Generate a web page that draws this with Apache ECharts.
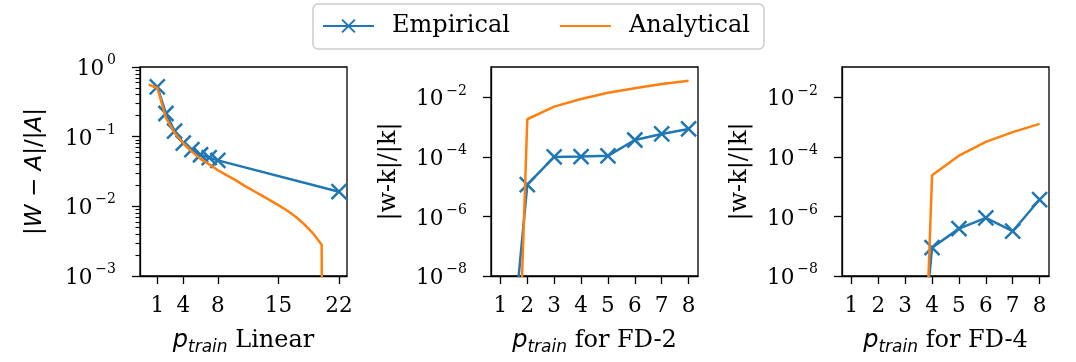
<!DOCTYPE html>
<html lang="en">
<head>
    <meta charset="UTF-8">
    <title>p_train error</title>
    <script src="https://cdn.jsdelivr.net/npm/echarts@6/dist/echarts.min.js"></script>
</head>
<body style="margin:0;background:#fff;">
<div id="chart" style="width:1076px;height:362px;"></div>
<script type="text/javascript">
    // values; 1e-30 / 1e-15 stand for "zero" points that drop off the log axis
    const linEmpX = [1, 2, 3, 4, 5, 6, 7, 8, 22];
    const linEmp = [0.52, 0.215, 0.12, 0.081, 0.065, 0.055, 0.050, 0.0457, 0.0162];
    const linAnaX = [0, 1, 2, 3, 4, 5, 6, 7, 8, 9, 10, 11, 12, 13, 14, 15, 16, 17, 18, 19, 20, 21];
    const linAna = [0.56, 0.50, 0.186, 0.113, 0.081, 0.061, 0.048, 0.040, 0.033, 0.028, 0.024,
        0.020, 0.017, 0.0145, 0.0123, 0.0104, 0.0087, 0.0071, 0.0055, 0.0041, 0.0028, 1e-30];

    const fdX = [1, 2, 3, 4, 5, 6, 7, 8];
    const fd2Emp = [3e-15, 1.17e-5, 1.0e-4, 1.03e-4, 1.09e-4, 3.7e-4, 5.9e-4, 8.7e-4];
    const fd2Ana = [1e-30, 1.84e-3, 4.9e-3, 8.8e-3, 1.42e-2, 2.04e-2, 2.8e-2, 3.6e-2];
    const fd4Emp = [1e-17, 1e-17, 3e-17, 8.9e-8, 3.9e-7, 8.9e-7, 3.2e-7, 3.7e-6];
    const fd4Ana = [1e-30, 1e-30, 1e-30, 2.4e-5, 1.1e-4, 3.2e-4, 6.8e-4, 1.29e-3];

    const linTicks = [1, 4, 8, 15, 22];
    const fdTicks = [1, 2, 3, 4, 5, 6, 7, 8];
    const linExp = [-3, -2, -1, 0];
    const fdExp = [-8, -6, -4, -2];

    const serif = 'DejaVu Serif';
    const sans = 'DejaVu Sans';
    const blue = '#1f77b4';
    const orange = '#ff7f0e';
    const lg = v => Math.log10(v);

    // minor log ticks for the first panel
    const linMinor = [];
    for (let d = -3; d < 0; d++) {
        for (let k = 2; k <= 9; k++) linMinor.push(lg(k * Math.pow(10, d)));
    }

    const panels = [
        {left: 140, xMin: -1.0, xMax: 22.93, xTicks: linTicks, yMin: -3, yMax: 0, yTicks: linExp,
            minor: linMinor, label: 'Linear', yName: '{b||}{i|W}{b| − }{i|A}{b||/|}{i|A}{b||}', yGap: 93,
            emp: [linEmpX, linEmp], ana: [linAnaX, linAna]},
        {left: 491, xMin: 0.65, xMax: 8.35, xTicks: fdTicks, yMin: -8, yMax: -0.98, yTicks: fdExp,
            minor: [], label: 'for FD-2', yName: '{r||w-k|/|k|}', yGap: 90,
            emp: [fdX, fd2Emp], ana: [fdX, fd2Ana]},
        {left: 842, xMin: 0.65, xMax: 8.35, xTicks: fdTicks, yMin: -8, yMax: -0.98, yTicks: fdExp,
            minor: [], label: 'for FD-4', yName: '{r||w-k|/|k|}', yGap: 90,
            emp: [fdX, fd4Emp], ana: [fdX, fd4Ana]}
    ];

    const black = {color: '#000', width: 1.3};
    const xSymbol = 'path://M0,0L10,10M10,0L0,10';

    function pairs(xs, ys) {
        return xs.map((x, k) => [x, lg(ys[k])]);
    }

    function expLabel(v) {
        const e = v < 0 ? '−' + (-v) : String(v);
        return '{b|10}{s|' + e + '}';
    }

    const option = {
        animation: false,
        backgroundColor: '#fff',
        legend: {
            left: 313, top: 4,
            padding: [10, 14, 11, 9],
            itemWidth: 51, itemHeight: 16, itemGap: 49,
            borderColor: '#cccccc', borderWidth: 1.5, borderRadius: 5,
            backgroundColor: '#fff',
            textStyle: {fontFamily: serif, fontSize: 24, color: '#000', padding: [0, 0, 0, 13]},
            data: ['Empirical', 'Analytical']
        },
        grid: [],
        xAxis: [],
        yAxis: [],
        series: []
    };

    panels.forEach((p, i) => {
        option.grid.push({
            left: p.left, top: 67, width: 207, height: 209,
            show: true, borderColor: '#000', borderWidth: 1.3, backgroundColor: 'rgba(0,0,0,0)'
        });
        option.xAxis.push({
            type: 'value', gridIndex: i, min: p.xMin, max: p.xMax,
            axisLine: {show: true, onZero: false, lineStyle: black},
            axisTick: {show: true, length: 8, lineStyle: black, customValues: p.xTicks},
            axisLabel: {customValues: p.xTicks, fontFamily: serif, fontSize: 21.5, color: '#000', margin: 19},
            splitLine: {show: false},
            name: '{i|p}{s|train}{r| ' + p.label + '}',
            nameLocation: 'middle', nameGap: 50,
            nameTextStyle: {
                rich: {
                    i: {fontFamily: sans, fontStyle: 'italic', fontSize: 24, lineHeight: 30, verticalAlign: 'middle', color: '#000'},
                    s: {fontFamily: sans, fontStyle: 'italic', fontSize: 17, lineHeight: 17, verticalAlign: 'bottom', color: '#000'},
                    r: {fontFamily: serif, fontSize: 24, lineHeight: 30, verticalAlign: 'middle', color: '#000'}
                }
            }
        });
        const yIdx = option.yAxis.length;
        option.yAxis.push({
            type: 'value', gridIndex: i, position: 'left', min: p.yMin, max: p.yMax,
            axisLine: {show: true, onZero: false, lineStyle: black},
            axisTick: {show: true, length: 8, lineStyle: black, customValues: p.yTicks},
            axisLabel: {
                customValues: p.yTicks, formatter: expLabel, margin: 24,
                rich: {
                    b: {fontFamily: serif, fontSize: 21.5, lineHeight: 27, verticalAlign: 'bottom', color: '#000'},
                    s: {fontFamily: serif, fontSize: 14, lineHeight: 14, verticalAlign: 'top', color: '#000', padding: [0, 0, 0, 3]}
                }
            },
            splitLine: {show: false},
            name: p.yName, nameLocation: 'middle', nameGap: p.yGap,
            nameTextStyle: {
                rich: {
                    b: {fontFamily: sans, fontSize: 23, color: '#000'},
                    i: {fontFamily: sans, fontStyle: 'italic', fontSize: 23, color: '#000'},
                    r: {fontFamily: serif, fontSize: 24, color: '#000'}
                }
            }
        });
        if (p.minor.length) {
            option.yAxis.push({
                type: 'value', gridIndex: i, position: 'left', min: p.yMin, max: p.yMax,
                axisLine: {show: false, onZero: false},
                axisTick: {show: true, inside: false, length: 4.5, lineStyle: {color: '#000', width: 1.1}, customValues: p.minor},
                axisLabel: {show: false},
                splitLine: {show: false}
            });
        }
        option.series.push({
            type: 'line', name: 'Empirical', xAxisIndex: i, yAxisIndex: yIdx,
            data: pairs(p.emp[0], p.emp[1]), clip: true, z: 3,
            symbol: xSymbol, symbolSize: 15,
            lineStyle: {color: blue, width: 2.5},
            itemStyle: {color: blue, borderColor: blue, borderWidth: 2.5}
        });
        option.series.push({
            type: 'line', name: 'Analytical', xAxisIndex: i, yAxisIndex: yIdx,
            data: pairs(p.ana[0], p.ana[1]), clip: true, z: 4,
            symbol: 'none',
            lineStyle: {color: orange, width: 2.5},
            // transparent so the legend shows only the line
            itemStyle: {color: 'rgba(0,0,0,0)'}
        });
    });

    const myChart = echarts.init(document.getElementById('chart'), null, {renderer: 'canvas'});
    myChart.setOption(option);
</script>
</body>
</html>
